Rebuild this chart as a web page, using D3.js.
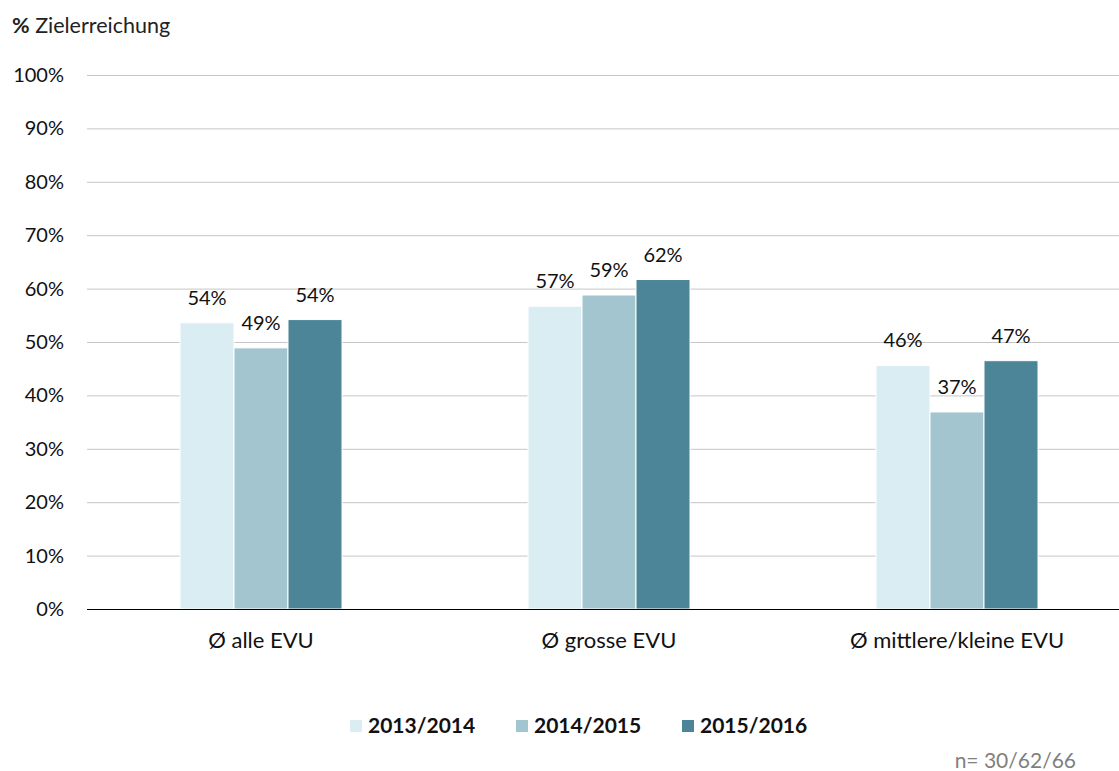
<!DOCTYPE html>
<html>
<head>
<meta charset="utf-8">
<script src="https://cdn.jsdelivr.net/npm/d3@7"></script>
<style>
  body { margin: 0; background: #fff; }
  text { font-family: Lato, "Open Sans", sans-serif; }
</style>
</head>
<body>
<svg id="chart" width="1119" height="771"></svg>
<script>
var categories = ["Ø alle EVU", "Ø grosse EVU", "Ø mittlere/kleine EVU"];
var seriesNames = ["2013/2014", "2014/2015", "2015/2016"];
var values2013 = [53.6, 56.7, 45.6];
var values2014 = [48.9, 58.8, 36.9];
var values2015 = [54.2, 61.7, 46.5];
var yTicks = [0, 10, 20, 30, 40, 50, 60, 70, 80, 90, 100];
var colors = ["#daedf3", "#a3c5d0", "#4b8597"];

var series = [values2013, values2014, values2015];

var svg = d3.select("svg#chart"),
	plotLeft = 87, plotRight = 1119, plotTop = 75, plotBottom = 609;

var y = d3.scaleLinear().domain([0, 100]).range([plotBottom, plotTop]);
var x = d3.scaleBand().domain(categories).range([plotLeft, plotLeft + 3 * 348]);
var xi = d3.scaleBand().domain(seriesNames).range([0, 162]);

// gridlines
svg.append("g").selectAll("line")
	.data(yTicks.filter(function(d) { return d > 0; }))
	.enter().append("line")
	.attr("x1", plotLeft).attr("x2", plotRight)
	.attr("y1", function(d) { return y(d) + 0.5; })
	.attr("y2", function(d) { return y(d) + 0.5; })
	.attr("stroke", "#c6c6c6").attr("stroke-width", 1);

// y labels
svg.append("g").selectAll("text")
	.data(yTicks)
	.enter().append("text")
	.attr("x", 64).attr("y", function(d) { return y(d); })
	.attr("dy", "0.35em").attr("text-anchor", "end")
	.attr("font-size", 20).attr("fill", "#111")
	.text(function(d) { return d + "%"; });

// bars
var groups = svg.append("g").selectAll("g")
	.data(categories)
	.enter().append("g")
	.attr("transform", function(d) { return "translate(" + (x(d) + x.bandwidth() / 2 - 81) + ",0)"; });

groups.selectAll("rect")
	.data(function(d, i) { return series.map(function(s, j) { return {v: s[i], k: seriesNames[j], j: j}; }); })
	.enter().append("rect")
	.attr("x", function(d) { return xi(d.k); })
	.attr("width", xi.bandwidth())
	.attr("y", function(d) { return y(d.v); })
	.attr("height", function(d) { return y(0) - y(d.v); })
	.attr("fill", function(d) { return colors[d.j]; })
	.attr("stroke", "#fff").attr("stroke-width", 1);

groups.selectAll("text")
	.data(function(d, i) { return series.map(function(s, j) { return {v: s[i], k: seriesNames[j]}; }); })
	.enter().append("text")
	.attr("x", function(d) { return xi(d.k) + xi.bandwidth() / 2; })
	.attr("y", function(d) { return y(d.v) - 18; })
	.attr("text-anchor", "middle")
	.attr("font-size", 20).attr("fill", "#111")
	.text(function(d) { return Math.round(d.v) + "%"; });

// x axis line
svg.append("line")
	.attr("x1", plotLeft).attr("x2", plotRight)
	.attr("y1", y(0) + 0.5).attr("y2", y(0) + 0.5)
	.attr("stroke", "#000").attr("stroke-width", 1);

// category labels
svg.append("g").selectAll("text")
	.data(categories)
	.enter().append("text")
	.attr("x", function(d) { return x(d) + x.bandwidth() / 2; })
	.attr("y", 648)
	.attr("text-anchor", "middle")
	.attr("font-size", 22).attr("fill", "#111")
	.text(function(d) { return d; });

// title
var title = svg.append("text").attr("x", 12).attr("y", 33).attr("font-size", 21.5).attr("fill", "#222");
title.append("tspan").attr("font-weight", "bold").text("%");
title.append("tspan").text(" Zielerreichung");

// legend
var legendX = [350, 516, 682];
var legend = svg.append("g").selectAll("g")
	.data(seriesNames)
	.enter().append("g")
	.attr("transform", function(d, i) { return "translate(" + legendX[i] + ",726)"; });
legend.append("rect")
	.attr("x", 0).attr("y", -6).attr("width", 12).attr("height", 12)
	.attr("fill", function(d, i) { return colors[i]; });
legend.append("text")
	.attr("x", 18).attr("dy", "0.35em")
	.attr("font-size", 21).attr("font-weight", "bold").attr("fill", "#111")
	.text(function(d) { return d; });

// sample size note
svg.append("text")
	.attr("x", 1076).attr("y", 768)
	.attr("text-anchor", "end")
	.attr("font-size", 21).attr("fill", "#7f7f7f")
	.text("n= 30/62/66");
</script>
</body>
</html>
